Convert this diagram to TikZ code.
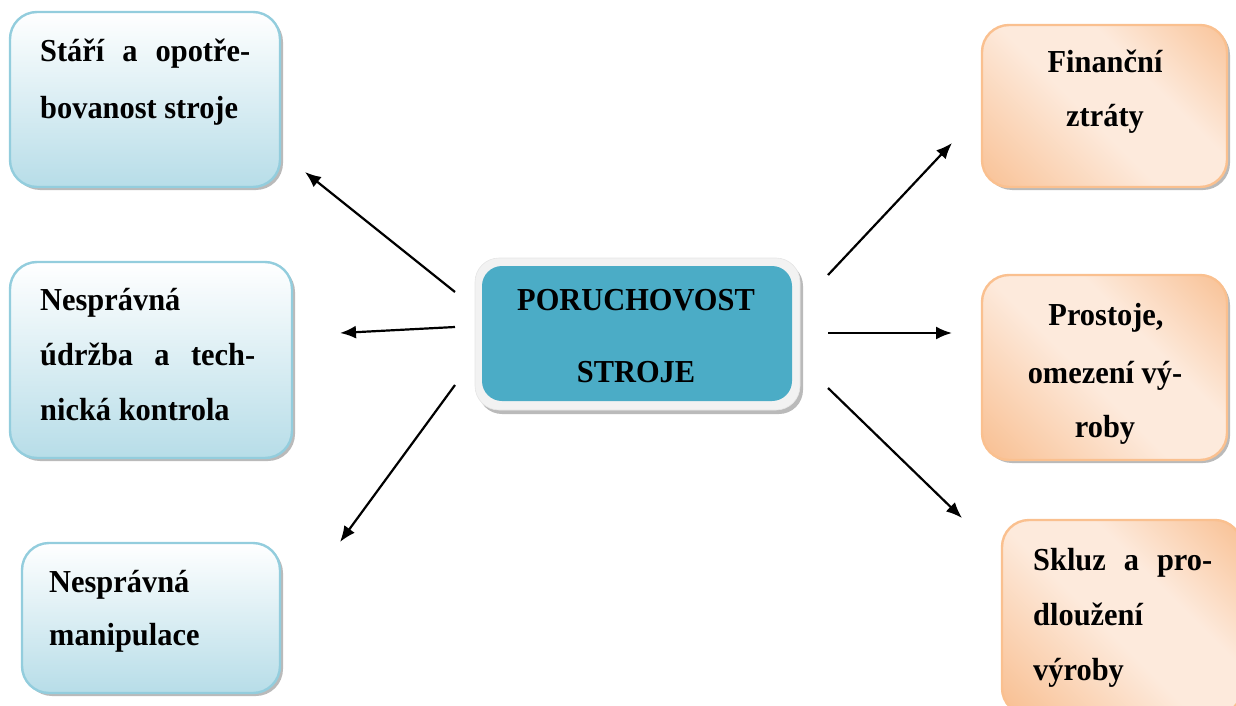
\documentclass[tikz,border=0pt]{standalone}
\usepackage{fontspec}
\setmainfont{Liberation Serif}[FakeStretch=0.95]
\usetikzlibrary{arrows.meta,shadows}

\definecolor{blueedge}{HTML}{93CDDD}
\definecolor{bluedeep}{HTML}{B7DDE8}
\definecolor{orangeedge}{HTML}{FAC08F}
\definecolor{orangedeep}{HTML}{F8BD8E}
\definecolor{orangelight}{HTML}{FDEADC}
\definecolor{teal}{HTML}{4BACC6}
\definecolor{frame}{HTML}{F2F2F2}

% peach gradient: strong at both ends, pale in the middle
\pgfdeclareverticalshading{peach}{100bp}{%
  color(0bp)=(orangedeep!90!orangelight); color(27bp)=(orangedeep!90!orangelight);
  color(47bp)=(orangelight); color(58bp)=(orangelight);
  color(76bp)=(orangedeep); color(100bp)=(orangedeep)}

\tikzset{
  card/.style={rectangle, rounded corners=27pt, line width=2.4pt, inner sep=0pt,
    drop shadow={shadow xshift=3pt, shadow yshift=-3pt, fill=black!45, opacity=0.6}},
  causebox/.style={card, draw=blueedge, top color=white, bottom color=bluedeep},
  effectbox/.style={card, draw=orangeedge, fill=orangelight,
    path picture={\shade[shading=peach, shading angle=-45,
      shift={(path picture bounding box.center)}] (-155,-155) rectangle (155,155);}},
  hubframe/.style={rectangle, rounded corners=24pt, fill=frame, draw=black!10, line width=0.6pt,
    inner sep=0pt, drop shadow={shadow xshift=3pt, shadow yshift=-4pt, fill=black!45, opacity=0.6}},
  hubcore/.style={rectangle, rounded corners=20pt, fill=teal, inner sep=0pt},
  txt/.style={font=\fontsize{32}{38}\selectfont\bfseries, inner sep=0pt, anchor=base west},
  ctxt/.style={txt, anchor=base},
  link/.style={line width=2.2pt, -{Latex[length=16pt,width=13pt]}}
}

\begin{document}
\begin{tikzpicture}[x=1pt, y=-1pt]
\useasboundingbox (0,0) rectangle (1236,706);
\clip (0,0) rectangle (1236,706);

% causes (left)
\node[causebox, minimum width=270pt, minimum height=175pt] (stari) at (145,99.5) {};
\node[causebox, minimum width=282pt, minimum height=196pt] (udrzba) at (151,360) {};
\node[causebox, minimum width=258pt, minimum height=150pt] (manip) at (151,618) {};

% consequences (right)
\node[effectbox, minimum width=245pt, minimum height=162pt] (financni) at (1104.5,106) {};
\node[effectbox, minimum width=245pt, minimum height=185pt] (prostoje) at (1104.5,367.5) {};
\node[effectbox, minimum width=240pt, minimum height=195pt] (skluz) at (1122,617.5) {};

% central node
\node[hubframe, minimum width=325pt, minimum height=152pt] (hub) at (637.5,334) {};
\node[hubcore, minimum width=310pt, minimum height=135pt] (hubcore) at (637,333.5) {};

% texts
\node[txt] (stari-a) at (40,62) {\makebox[210pt][s]{Stáří a opotře-}};
\node[txt] (stari-b) at (40,118) {bovanost stroje};

\node[txt] (udrzba-a) at (40,310) {Nesprávná};
\node[txt] (udrzba-b) at (40,365) {\makebox[215pt][s]{údržba a tech-}};
\node[txt] (udrzba-c) at (40,420) {nická kontrola};

\node[txt] (manip-a) at (49,592) {Nesprávná};
\node[txt] (manip-b) at (49,645) {manipulace};

\node[ctxt] (hub-a) at (636,310) {PORUCHOVOST};
\node[ctxt] (hub-b) at (636,382) {STROJE};

\node[ctxt] (financni-a) at (1105,73) {Finanční};
\node[ctxt] (financni-b) at (1105,127) {ztráty};

\node[ctxt] (prostoje-a) at (1106,325) {Prostoje,};
\node[ctxt] (prostoje-b) at (1105,383) {omezení vý-};
\node[ctxt] (prostoje-c) at (1105,437) {roby};

\node[txt] (skluz-a) at (1033,570) {\makebox[179pt][s]{Skluz a pro-}};
\node[txt] (skluz-b) at (1033,625) {dloužení};
\node[txt] (skluz-c) at (1033,680) {výroby};

% arrow end points
\coordinate (o1) at (455,292);  \coordinate (t1) at (305,172);
\coordinate (o2) at (455,327);  \coordinate (t2) at (340,333);
\coordinate (o3) at (455,385);  \coordinate (t3) at (340,542);
\coordinate (o4) at (828,275);  \coordinate (t4) at (952,143);
\coordinate (o5) at (828,333);  \coordinate (t5) at (952,333);
\coordinate (o6) at (828,388);  \coordinate (t6) at (962,518);

\draw[link] (o1) -- (t1);
\draw[link] (o2) -- (t2);
\draw[link] (o3) -- (t3);
\draw[link] (o4) -- (t4);
\draw[link] (o5) -- (t5);
\draw[link] (o6) -- (t6);
\end{tikzpicture}
\end{document}
